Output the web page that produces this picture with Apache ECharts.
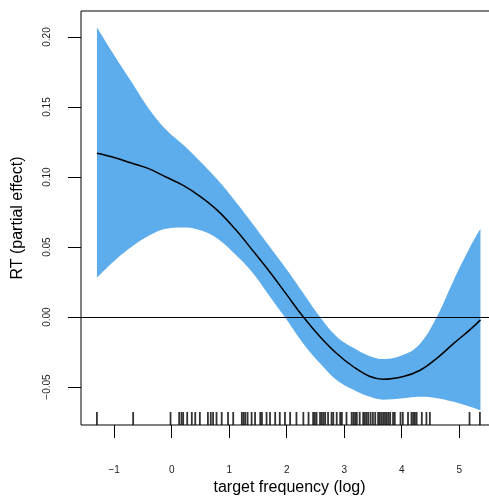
<!DOCTYPE html>
<html>
<head>
<meta charset="utf-8">
<script src="https://cdn.jsdelivr.net/npm/echarts@6/dist/echarts.min.js"></script>
<style>
  html, body { margin: 0; padding: 0; background: #fff; }
  #chart { width: 489px; height: 496px; }
</style>
</head>
<body>
<div id="chart"></div>
<script>
// smooth term
const freq = [-1.30, -1.0, -0.7, -0.4, -0.1, 0.2, 0.5, 0.8, 1.1, 1.4, 1.71, 2.0,
  2.29, 2.58, 2.87, 3.16, 3.45, 3.68, 4.03, 4.32, 4.61, 4.90, 5.19, 5.37]
const fit = [0.117, 0.114, 0.110, 0.106, 0.100, 0.094, 0.086, 0.076, 0.063, 0.048, 0.032, 0.016,
  0.000, -0.014, -0.026, -0.0355, -0.0425, -0.0445, -0.0425, -0.038, -0.0295, -0.019, -0.009, -0.002]
const upper = [0.207, 0.187, 0.168, 0.149, 0.134, 0.123, 0.111, 0.098, 0.083, 0.067, 0.050, 0.034,
  0.017, 0.000, -0.014, -0.022, -0.028, -0.030, -0.027, -0.019, 0.000, 0.026, 0.050, 0.063]
const lower = [0.028, 0.040, 0.050, 0.058, 0.063, 0.064, 0.062, 0.056, 0.045, 0.032, 0.0145, -0.002,
  -0.019, -0.033, -0.045, -0.052, -0.057, -0.059, -0.058, -0.057, -0.058, -0.0605, -0.064, -0.0665]

// rug of observed target frequencies
const rug = [-1.30, -0.67, -0.02, 0.13, 0.17, 0.20, 0.27, 0.35, 0.41, 0.49, 0.63, 0.68, 0.72, 0.78,
  0.87, 0.98, 1.07, 1.22, 1.25, 1.28, 1.32, 1.39, 1.45, 1.54, 1.57, 1.65, 1.71, 1.80, 1.88, 1.97,
  2.06, 2.17, 2.29, 2.38, 2.46, 2.49, 2.52, 2.58, 2.61, 2.64, 2.67, 2.72, 2.78, 2.81, 2.87, 2.93,
  2.96, 3.04, 3.13, 3.16, 3.19, 3.22, 3.27, 3.33, 3.36, 3.39, 3.42, 3.46, 3.50, 3.54, 3.59, 3.62,
  3.65, 3.68, 3.71, 3.74, 3.77, 3.80, 3.85, 3.88, 3.98, 4.02, 4.11, 4.17, 4.20, 4.23, 4.26, 4.35,
  4.43, 4.49, 5.18, 5.36]

const xTicks = [-1, 0, 1, 2, 3, 4, 5]
const yTicks = [-0.05, 0, 0.05, 0.10, 0.15, 0.20]

const xMin = -1.577, xMax = 5.675
const yMin = -0.0771, yMax = 0.2186

const chart = echarts.init(document.getElementById('chart'))

const font = 'Liberation Sans, Arial, sans-serif'

// band: lower bound + width, stacked on y (value put first so it is the stacked dim)
const bandLow = freq.map((x, i) => [lower[i], x])
const bandWidth = freq.map((x, i) => [upper[i] - lower[i], x])

chart.setOption({
  animation: false,
  grid: {
    left: 81,
    top: 11,
    width: 417,
    height: 414,
    outerBoundsMode: 'none',
    containLabel: false,
    show: true,
    borderColor: '#000',
    borderWidth: 1
  },
  xAxis: {
    type: 'value',
    min: xMin,
    max: xMax,
    name: 'target frequency (log)',
    nameLocation: 'middle',
    nameGap: 55,
    nameTextStyle: { fontSize: 16, color: '#000', fontFamily: font },
    axisLine: { show: false, onZero: false },
    axisTick: { show: true, length: 13, customValues: xTicks, lineStyle: { color: '#000' } },
    axisLabel: {
      customValues: xTicks,
      margin: 40,
      fontSize: 10,
      color: '#222',
      fontFamily: font,
      formatter: v => String(v).replace('-', '\u2212')
    },
    splitLine: { show: false }
  },
  yAxis: {
    type: 'value',
    min: yMin,
    max: yMax,
    name: 'RT (partial effect)',
    nameLocation: 'middle',
    nameGap: 55,
    nameTextStyle: { fontSize: 16, color: '#000', fontFamily: font },
    axisLine: { show: false, onZero: false },
    axisTick: { show: true, length: 13, customValues: yTicks, lineStyle: { color: '#000' } },
    axisLabel: {
      customValues: yTicks,
      rotate: 90,
      margin: 29,
      fontSize: 10,
      color: '#222',
      fontFamily: font,
      formatter: v => v.toFixed(2).replace('-', '\u2212')
    },
    splitLine: { show: false }
  },
  series: [
    {
      type: 'line',
      stack: 'band',
      stackStrategy: 'all',
      data: bandLow,
      encode: { x: 1, y: 0 },
      smooth: 0.4,
      symbol: 'none',
      lineStyle: { width: 0, opacity: 0 },
      silent: true
    },
    {
      type: 'line',
      stack: 'band',
      stackStrategy: 'all',
      data: bandWidth,
      encode: { x: 1, y: 0 },
      smooth: 0.4,
      symbol: 'none',
      lineStyle: { width: 0, opacity: 0 },
      areaStyle: { color: '#5dadec', opacity: 1 },
      silent: true
    },
    {
      type: 'line',
      data: freq.map((x, i) => [x, fit[i]]),
      smooth: 0.4,
      symbol: 'none',
      lineStyle: { color: '#000', width: 1.5 },
      markLine: {
        silent: true,
        symbol: 'none',
        label: { show: false },
        lineStyle: { color: '#000', width: 1.2, type: 'solid' },
        data: [{ yAxis: 0 }]
      }
    },
    {
      type: 'scatter',
      data: rug.map(x => [x, yMin]),
      symbol: 'rect',
      symbolSize: [1.8, 13],
      symbolOffset: [0, -6.5],
      itemStyle: { color: '#000' },
      silent: true
    }
  ]
})
</script>
</body>
</html>
